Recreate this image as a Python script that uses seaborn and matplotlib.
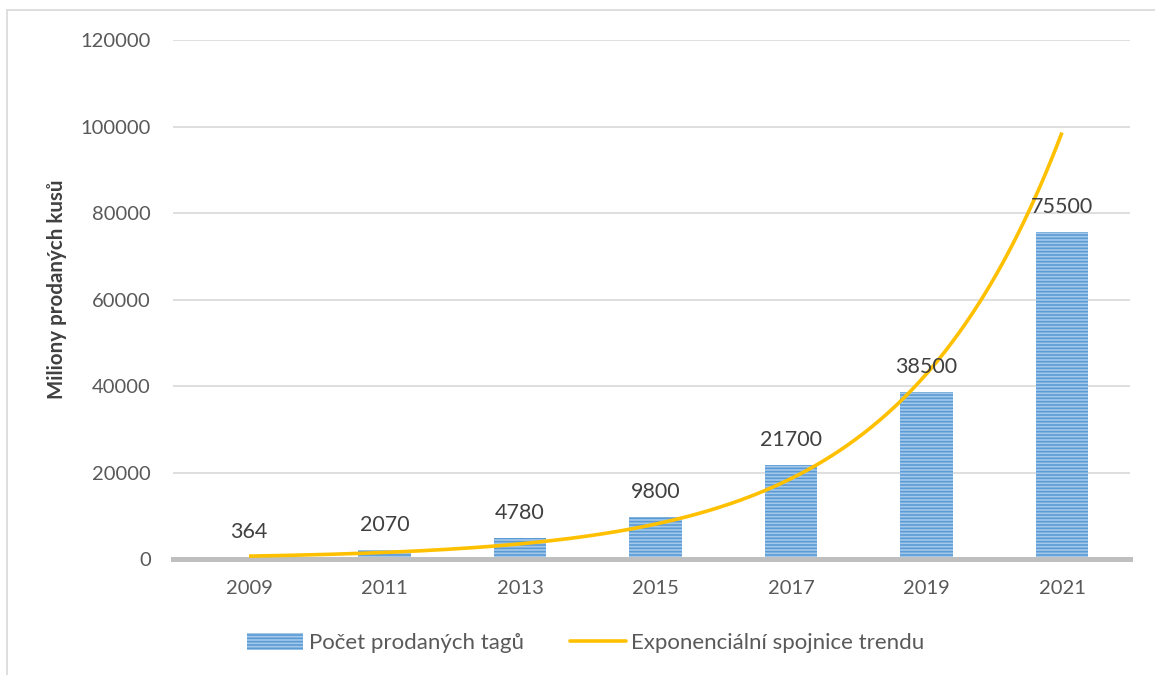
import numpy as np
import pandas as pd
import matplotlib
matplotlib.use("Agg")
import matplotlib.pyplot as plt
import seaborn as sns
from matplotlib.lines import Line2D

years = ["2009", "2011", "2013", "2015", "2017", "2019", "2021"]
sold = [364, 2070, 4780, 9800, 21700, 38500, 75500]
y_ticks = [0, 20000, 40000, 60000, 80000, 100000, 120000]
bar_label = "Počet prodaných tagů"
trend_label = "Exponenciální spojnice trendu"
y_title = "Miliony prodaných kusů"

sns.set_theme(style="white")
plt.rcParams['font.family'] = ['Lato', 'DejaVu Sans']
plt.rcParams['hatch.linewidth'] = 1.2

df = pd.DataFrame({"year": years, "sold": sold})

fig = plt.figure(figsize=(11.55, 6.75), dpi=100)
ax = fig.add_axes([173/1155, 1 - 559/675, (1130 - 173)/1155, (559 - 40)/675])

sns.barplot(data=df, x="year", y="sold", ax=ax, color="#A4C8EA",
            width=0.384, saturation=1, label=bar_label, zorder=2)
if ax.get_legend() is not None:
    ax.get_legend().remove()
for p in ax.patches:
    p.set_hatch("-----")
    p.set_edgecolor("#5B9BD5")
    p.set_linewidth(0)

# Exponential trendline (least-squares fit on ln(y), like Excel)
xi = np.arange(1, len(sold) + 1)
b, lna = np.polyfit(xi, np.log(sold), 1)
xs = np.linspace(1, len(sold), 300)
ax.plot(xs - 1, np.exp(lna + b * xs), color="#FFC000", lw=2.6, zorder=4,
        solid_capstyle="butt")

for i, v in enumerate(sold):
    ax.annotate(f"{v}", (i, v), xytext=(0, 18), textcoords="offset points",
                ha="center", va="center", fontsize=15.5, color="#404040", zorder=5)

ax.set_ylim(0, 120000)
ax.set_xlim(-0.561, 6.502)
ax.set_yticks(y_ticks)
ax.set_yticklabels([str(t) for t in y_ticks])
ax.yaxis.grid(True, color="#D9D9D9", lw=1.2, zorder=0)
ax.set_axisbelow(True)
ax.tick_params(axis="y", length=0, pad=16, labelsize=14.5, labelcolor="#595959")
ax.tick_params(axis="x", length=0, pad=15, labelsize=14.5, labelcolor="#595959")
for s in ["left", "right", "top"]:
    ax.spines[s].set_visible(False)
ax.spines["bottom"].set_color("#BFBFBF")
ax.spines["bottom"].set_linewidth(3.6)
ax.spines["bottom"].set_zorder(3)
ax.set_xlabel("")
ax.set_ylabel("")
fig.text(57/1155, 1 - 289/675, y_title, rotation=90, ha="center", va="center",
         fontsize=14.8, fontweight="bold", color="#404040")

handles = [ax.patches[0],
           Line2D([], [], color="#FFC000", lw=2.6)]
fig.legend(handles, [bar_label, trend_label], loc="center",
           bbox_to_anchor=(586/1155, 1 - 643/675), ncol=2, frameon=False,
           fontsize=16, labelcolor="#595959", handlelength=2.5,
           handleheight=0.85, handletextpad=0.25, columnspacing=2.1)

# chart frame (left and top edges)
fig.add_artist(Line2D([7/1155, 7/1155], [0, 1 - 10/675], transform=fig.transFigure,
                      color="#D9D9D9", lw=1.2))
fig.add_artist(Line2D([7/1155, 1], [1 - 10/675, 1 - 10/675], transform=fig.transFigure,
                      color="#D9D9D9", lw=1.2))

fig.savefig("out.png", dpi=100)
